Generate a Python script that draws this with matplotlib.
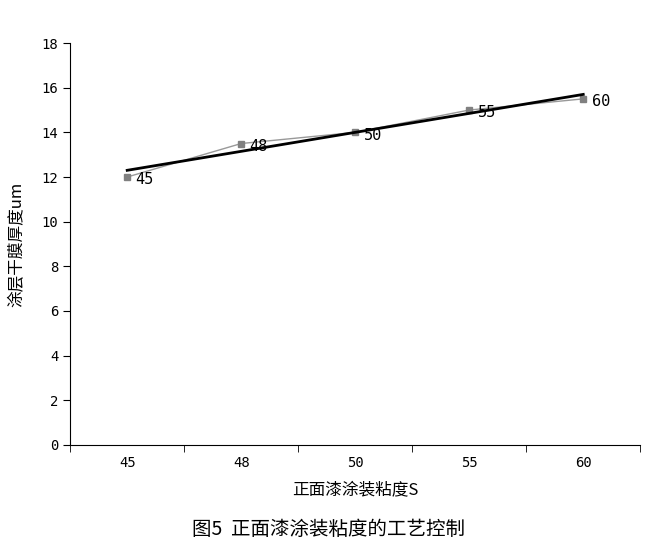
import matplotlib.pyplot as plt
import numpy as np

plt.rcParams['font.family'] = ['Noto Sans CJK SC', 'DejaVu Sans']

# 粘度（类别）和干膜厚度
categories = ["45", "48", "50", "55", "60"]
thickness = [12.0, 13.5, 14.0, 15.0, 15.5]

x = np.arange(len(categories))

fig = plt.figure(figsize=(6.56, 5.52), dpi=100)
ax = fig.add_axes([0.107, 0.194, 0.869, 0.728])

ax.plot(x, thickness, color="#999999", lw=1, marker="s", ms=5,
        markerfacecolor="#808080", markeredgecolor="#808080")

# 线性趋势线
k, b = np.polyfit(x, thickness, 1)
ax.plot(x, k * x + b, color="black", lw=2)

for xi, yi, lbl in zip(x, thickness, categories):
    ax.annotate(lbl, (xi, yi), xytext=(6, -2), textcoords="offset points",
                ha="left", va="center", fontsize=11, family="DejaVu Sans Mono")

ax.set_xlim(-0.5, len(categories) - 0.5)
ax.set_ylim(0, 18)
ax.set_yticks(np.arange(0, 19, 2))
ax.set_xticks(x)
ax.set_xticklabels(categories, family="DejaVu Sans Mono", fontsize=10)
ax.set_xticks(np.arange(-0.5, len(categories), 1), minor=True)
ax.tick_params(axis="x", which="major", length=0, pad=8)
ax.tick_params(axis="x", which="minor", length=5, direction="out")
ax.tick_params(axis="y", length=5, direction="out", labelsize=10)
for t in ax.get_yticklabels():
    t.set_family("DejaVu Sans Mono")

ax.spines["top"].set_visible(False)
ax.spines["right"].set_visible(False)

ax.set_xlabel("正面漆涂装粘度S", fontsize=12, labelpad=8)
ax.set_ylabel("涂层干膜厚度um", fontsize=12, labelpad=12)
fig.text(0.5, 0.03, "图5  正面漆涂装粘度的工艺控制", ha="center", fontsize=14)

plt.savefig("out.png", dpi=100)
plt.close()
